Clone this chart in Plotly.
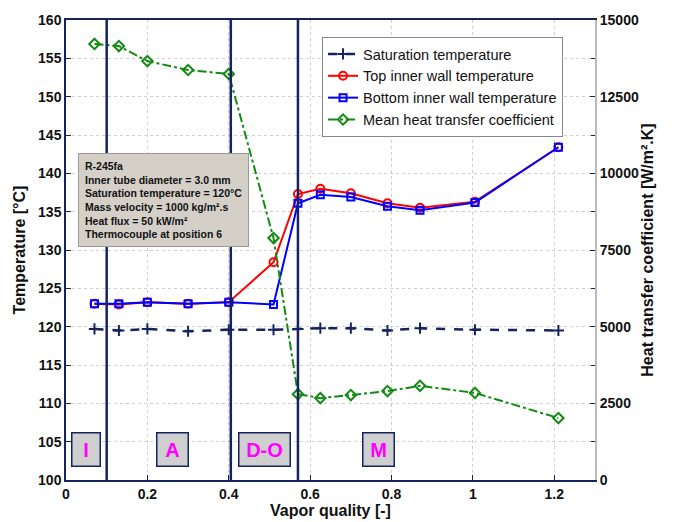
import plotly.graph_objects as go

x_q = [0.07, 0.13, 0.20, 0.30, 0.40, 0.51, 0.57, 0.625, 0.70, 0.79, 0.87, 1.005, 1.21]
t_sat = [119.7, 119.5, 119.7, 119.4, 119.6, 119.6, 119.7, 119.8, 119.8, 119.5, 119.8, 119.6, 119.5]
t_top = [123.0, 122.9, 123.2, 123.0, 123.2, 128.4, 137.3, 138.0, 137.4, 136.1, 135.5, 136.3, 143.4]
t_bot = [123.0, 123.0, 123.2, 123.0, 123.2, 122.9, 136.1, 137.2, 136.9, 135.7, 135.2, 136.2, 143.4]
htc = [14220, 14150, 13660, 13370, 13240, 7890, 2800, 2670, 2770, 2900, 3070, 2840, 2020]

boundaries = [0.10, 0.405, 0.57]
regions = ["I", "A", "D-O", "M"]
region_x = [0.05, 0.262, 0.488, 0.767]
region_w = [17, 20, 40, 20]

info_lines = ["R-245fa", "Inner tube diameter = 3.0 mm", "Saturation temperature = 120°C",
              "Mass velocity = 1000 kg/m².s", "Heat flux = 50 kW/m²", "Thermocouple at position 6"]

navy = "#15245e"
font_family = "Liberation Sans, Arial, sans-serif"

fig = go.Figure()
fig.add_trace(go.Scatter(x=x_q, y=t_sat, name="Saturation temperature", mode="lines+markers",
                         line=dict(color=navy, width=2.5, dash="dash"),
                         marker=dict(symbol="cross-thin-open", size=8, line=dict(color=navy, width=2))))
fig.add_trace(go.Scatter(x=x_q, y=t_top, name="Top inner wall temperature", mode="lines+markers",
                         line=dict(color="#ff0000", width=2),
                         marker=dict(symbol="circle-open", size=8, line=dict(color="#ff0000", width=2))))
fig.add_trace(go.Scatter(x=x_q, y=t_bot, name="Bottom inner wall temperature", mode="lines+markers",
                         line=dict(color="#0000ff", width=2),
                         marker=dict(symbol="square-open", size=7, line=dict(color="#0000ff", width=2))))
fig.add_trace(go.Scatter(x=x_q, y=htc, name="Mean heat transfer coefficient", mode="lines+markers",
                         yaxis="y2",
                         line=dict(color="#138a13", width=2, dash="dashdot"),
                         marker=dict(symbol="diamond-open", size=8, line=dict(color="#138a13", width=2))))

for b in boundaries:
    fig.add_shape(type="line", x0=b, x1=b, y0=100, y1=160, xref="x", yref="y",
                  line=dict(color=navy, width=2.5))

for r, rx, rw in zip(regions, region_x, region_w):
    fig.add_annotation(x=rx, y=104, xref="x", yref="y", text="<b>" + r + "</b>", showarrow=False,
                       width=rw, align="center",
                       font=dict(family=font_family, size=20, color="#ff00ff"),
                       bgcolor="#cfcfcf", bordercolor=navy, borderwidth=1.5, borderpad=5)

fig.add_annotation(x=0.023, y=0.71, xref="x domain", yref="y domain", xanchor="left", yanchor="top",
                   text="<br>".join("<b>" + s + "</b>" for s in info_lines), align="left", showarrow=False,
                   font=dict(family=font_family, size=10.5, color="#111111"),
                   bgcolor="#d4d0c8", bordercolor="#999999", borderwidth=1, borderpad=6)

tick_font = dict(family=font_family, size=14, color="#111111", weight="bold")
title_font = dict(family=font_family, size=16, color="#111111")
fig.update_layout(
    width=667, height=514,
    margin=dict(l=58, r=80, t=12, b=42, autoexpand=False),
    paper_bgcolor="white", plot_bgcolor="white",
    font=dict(family=font_family),
    showlegend=True,
    legend=dict(x=0.484, y=0.963, xanchor="left", yanchor="top", bgcolor="white",
                bordercolor="#888888", borderwidth=1,
                font=dict(family=font_family, size=14.5, color="#111111"),
                tracegroupgap=0, itemwidth=30),
    xaxis=dict(range=[0, 1.3], dtick=0.2, tickformat="~g", showgrid=True, gridcolor="#d0d0d0",
               griddash="dot", ticks="inside", ticklen=5, tickcolor=navy, automargin=False,
               showline=True, linecolor=navy, linewidth=1.5, mirror=True, zeroline=False,
               tickfont=tick_font,
               title=dict(text="<b>Vapor quality [-]</b>", font=title_font, standoff=2)),
    yaxis=dict(range=[100, 160], dtick=5, showgrid=True, gridcolor="#d0d0d0", griddash="dot",
               ticks="inside", ticklen=5, tickcolor=navy, showline=True, linecolor=navy, linewidth=1.5,
               zeroline=False, tickfont=tick_font, automargin=False,
               title=dict(text="<b>Temperature [°C]</b>", font=title_font, standoff=8)),
    yaxis2=dict(range=[0, 15000], dtick=2500, tickformat="d", overlaying="y", side="right", showgrid=False,
                ticks="inside", ticklen=5, tickcolor=navy, showline=True, linecolor="#bbbbbb", linewidth=2,
                zeroline=False, tickfont=tick_font, automargin=False,
                minor=dict(dtick=1250, ticks="inside", ticklen=4, tickcolor=navy),
                title=dict(text="<b>Heat transfer coefficient [W/m².K]</b>", font=title_font, standoff=4)),
)

fig.write_html("out.html")
